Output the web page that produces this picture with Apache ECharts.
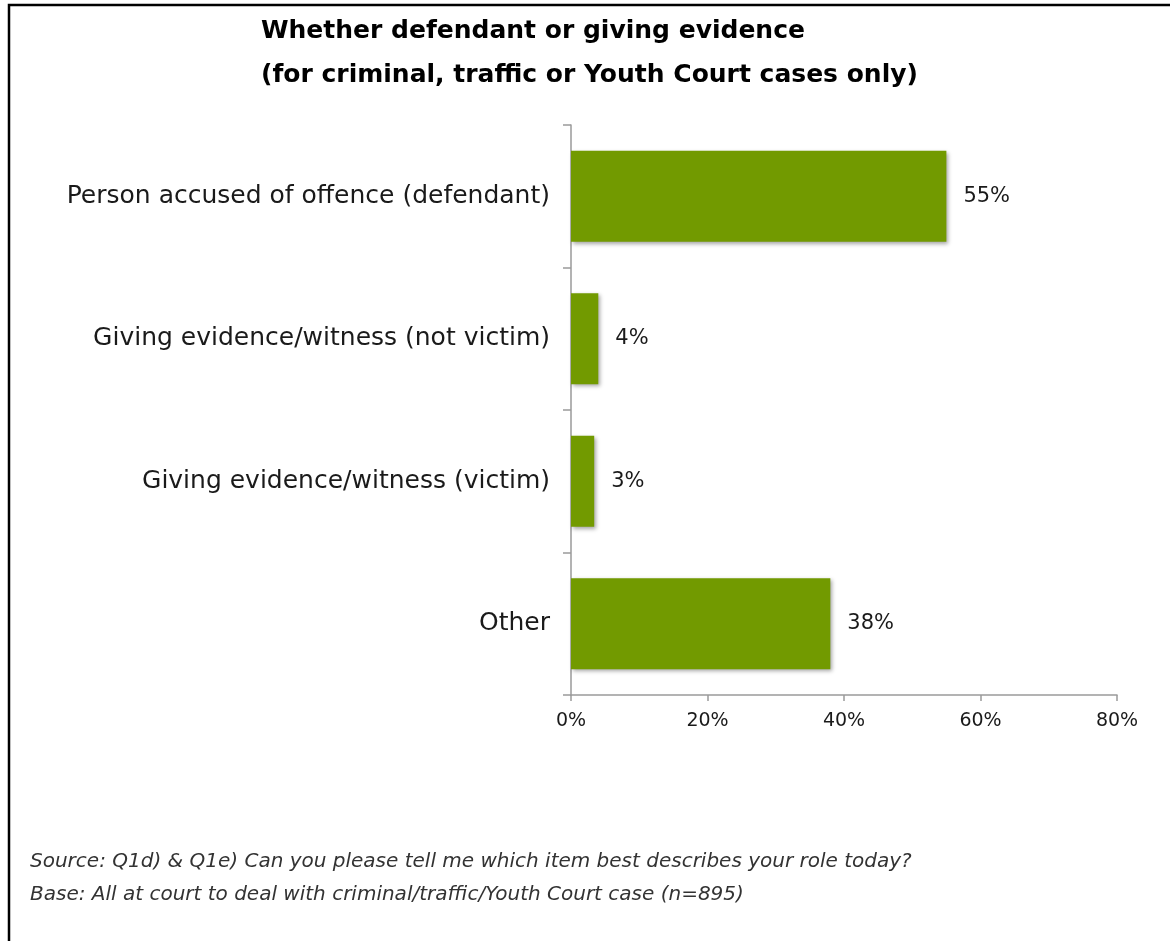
<!DOCTYPE html>
<html>
<head>
<meta charset="utf-8">
<script src="https://cdn.jsdelivr.net/npm/echarts@6/dist/echarts.min.js"></script>
<style>
  html, body { margin: 0; padding: 0; background: #fff; }
  #chart { width: 1170px; height: 941px; }
</style>
</head>
<body>
<div id="chart"></div>
<script>
// Respondent roles for criminal, traffic or Youth Court cases
const categories = [
  'Person accused of offence (defendant)',
  'Giving evidence/witness (not victim)',
  'Giving evidence/witness (victim)',
  'Other'
];
const shares = [55, 4, 3.4, 38];
const shareLabels = ['55%', '4%', '3%', '38%'];
const titleLines = [
  'Whether defendant or giving evidence',
  '(for criminal, traffic or Youth Court cases only)'
];
const notes = [
  'Source: Q1d) & Q1e) Can you please tell me which item best describes your role today?',
  'Base: All at court to deal with criminal/traffic/Youth Court case (n=895)'
];

const labelFont = '"DejaVu Sans", sans-serif';
const chart = echarts.init(document.getElementById('chart'), null, { renderer: 'canvas' });

chart.setOption({
  backgroundColor: '#ffffff',
  animation: false,
  grid: { left: 571, right: 53, top: 125, bottom: 246, containLabel: false },
  xAxis: {
    type: 'value',
    min: 0, max: 80, interval: 20,
    axisLine: { show: true, lineStyle: { color: '#9a9a9a', width: 1.5 } },
    axisTick: { show: true, length: 6, lineStyle: { color: '#9a9a9a', width: 1.5 } },
    splitLine: { show: false },
    axisLabel: {
      formatter: '{value}%', margin: 17,
      color: '#1a1a1a', fontSize: 19, fontFamily: labelFont
    }
  },
  yAxis: {
    type: 'category',
    data: categories,
    inverse: true,
    axisLine: { show: true, lineStyle: { color: '#9a9a9a', width: 1.5 } },
    axisTick: { show: true, length: 8, lineStyle: { color: '#9a9a9a', width: 1.5 } },
    axisLabel: {
      margin: 21, color: '#1a1a1a', fontSize: 25, fontFamily: labelFont,
      padding: [4, 0, 0, 0]
    }
  },
  series: [{
    type: 'bar',
    data: shares,
    barWidth: 91,
    itemStyle: {
      color: '#729a00',
      shadowColor: 'rgba(0,0,0,0.35)',
      shadowBlur: 4,
      shadowOffsetX: 2,
      shadowOffsetY: 2
    },
    label: {
      show: true,
      position: 'right',
      distance: 17,
      color: '#1a1a1a',
      fontSize: 21,
      fontFamily: labelFont,
      formatter: p => shareLabels[p.dataIndex]
    }
  }],
  graphic: [
    {
      type: 'rect', silent: true,
      shape: { x: 9, y: 5, width: 1200, height: 1000 },
      style: { fill: 'none', stroke: '#000', lineWidth: 2.5 }
    },
    {
      type: 'text', left: 261, top: 19,
      style: { text: titleLines[0], fill: '#000', font: 'bold 25px "DejaVu Sans", sans-serif' }
    },
    {
      type: 'text', left: 261, top: 63,
      style: { text: titleLines[1], fill: '#000', font: 'bold 25px "DejaVu Sans", sans-serif' }
    },
    {
      type: 'text', left: 30, top: 852,
      style: { text: notes[0], fill: '#333', font: 'italic 20px "DejaVu Sans", sans-serif' }
    },
    {
      type: 'text', left: 30, top: 885,
      style: { text: notes[1], fill: '#333', font: 'italic 20px "DejaVu Sans", sans-serif' }
    }
  ]
});
</script>
</body>
</html>
